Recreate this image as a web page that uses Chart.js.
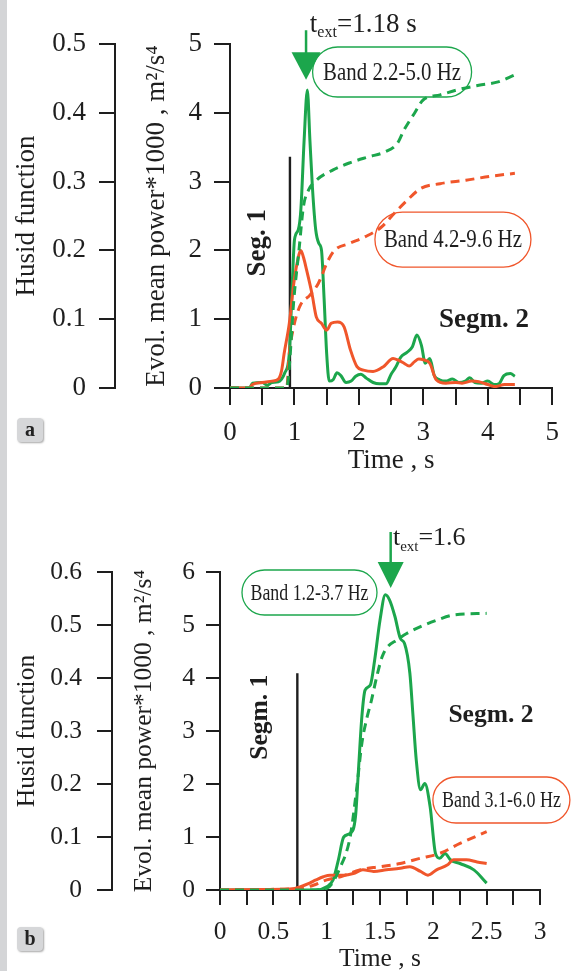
<!DOCTYPE html>
<html>
<head>
<meta charset="utf-8">
<script src="https://cdn.jsdelivr.net/npm/chart.js@4.4.1/dist/chart.umd.min.js"></script>
<style>
html, body { margin: 0; padding: 0; background: #fff; overflow: hidden; width: 571px; height: 971px; }
#stripe { position: absolute; left: 0; top: 0; width: 7px; height: 971px; background: #d4d5d7; }
canvas { position: absolute; left: 0; }
#cA { top: 0; }
#cB { top: 480px; }
.tag { position: absolute; left: 17px; width: 26px; height: 24px; background: #d6d7d9; border-radius: 4px;
       box-shadow: 1px 1px 2px rgba(0,0,0,0.35); font: bold 20px "Liberation Serif", serif;
       text-align: center; line-height: 23px; color: #222; }
</style>
</head>
<body>
<div id="stripe"></div>
<canvas id="cA" width="571" height="480"></canvas>
<canvas id="cB" width="571" height="500"></canvas>
<div class="tag" style="top:418px">a</div>
<div class="tag" style="top:927px">b</div>
<script>
// ---- panel a: time (s) and values ----
var tA_green = [0, 0.3, 0.35, 0.5, 0.58, 0.65, 0.75, 0.85, 0.92, 0.97, 1.0, 1.06, 1.1, 1.15, 1.2, 1.24, 1.28, 1.33, 1.38, 1.42,
  1.46, 1.5, 1.54, 1.6, 1.66, 1.72, 1.8, 1.88, 1.95, 2.03, 2.12, 2.22, 2.32, 2.42, 2.5, 2.57, 2.65, 2.75, 2.83, 2.9,
  2.97, 3.03, 3.1, 3.17, 3.25, 3.35, 3.45, 3.55, 3.65, 3.72, 3.8, 3.9, 4.0, 4.1, 4.17, 4.25, 4.35, 4.42];
var pA_green = [0, 0, 0.07, 0.08, 0.04, 0.08, 0.09, 0.22, 0.5, 1.6, 2.15, 2.3, 2.6, 3.6, 4.33, 3.6, 2.9, 2.3, 2.1, 2.0,
  1.3, 0.5, 0.1, 0.12, 0.22, 0.18, 0.08, 0.1, 0.17, 0.2, 0.14, 0.08, 0.06, 0.06, 0.2, 0.3, 0.45, 0.52, 0.6, 0.77,
  0.62, 0.36, 0.43, 0.18, 0.12, 0.1, 0.13, 0.08, 0.1, 0.15, 0.08, 0.07, 0.1, 0.05, 0.06, 0.18, 0.21, 0.17];

var tA_red = [0, 0.3, 0.35, 0.5, 0.65, 0.75, 0.8, 0.84, 0.92, 0.99, 1.04, 1.1, 1.14, 1.19, 1.27, 1.34, 1.42, 1.5, 1.57, 1.67,
  1.77, 1.87, 1.97, 2.07, 2.22, 2.38, 2.53, 2.62, 2.7, 2.78, 2.86, 2.93, 3.0, 3.1, 3.2, 3.35, 3.5, 3.6, 3.75, 3.86,
  4.0, 4.11, 4.26, 4.42];
var pA_red = [0, 0, 0.05, 0.08, 0.1, 0.13, 0.25, 0.5, 0.94, 1.52, 1.81, 2.0, 1.9, 1.71, 1.38, 1.03, 0.94, 0.84, 0.94, 0.96,
  0.89, 0.55, 0.31, 0.26, 0.24, 0.31, 0.43, 0.4, 0.36, 0.32, 0.38, 0.42, 0.41, 0.36, 0.12, 0.07, 0.08, 0.07, 0.1, 0.09,
  0.05, 0.02, 0.05, 0.05];

var tA_husGreen = [0, 0.88, 0.92, 0.99, 1.07, 1.14, 1.22, 1.34, 1.6, 1.85, 2.15, 2.4, 2.6, 2.7, 2.86, 3.0, 3.26, 3.51, 3.86, 4.16, 4.42];
var hA_green = [0, 0, 0.031, 0.128, 0.2, 0.264, 0.288, 0.302, 0.317, 0.327, 0.336, 0.343, 0.356, 0.375, 0.399, 0.419, 0.426, 0.433, 0.44, 0.445, 0.455];

var tA_husRed = [0, 0.88, 0.92, 0.99, 1.09, 1.24, 1.37, 1.52, 1.62, 1.85, 2.1, 2.35, 2.55, 2.75, 2.96, 3.26, 3.66, 4.06, 4.42];
var hA_red = [0, 0, 0.05, 0.09, 0.12, 0.135, 0.152, 0.185, 0.2, 0.21, 0.22, 0.234, 0.254, 0.273, 0.29, 0.297, 0.302, 0.308, 0.312];

var tA_seg = [0.93, 0.93];
var pA_seg = [0, 3.36];

// ---- panel b ----
var tB_green = [0, 0.5, 0.9, 1.0, 1.06, 1.11, 1.16, 1.22, 1.27, 1.3, 1.33, 1.36, 1.41, 1.45, 1.5, 1.55, 1.59, 1.64, 1.69, 1.73,
  1.78, 1.81, 1.84, 1.88, 1.92, 1.97, 2.02, 2.06, 2.11, 2.16, 2.25, 2.38, 2.5];
var pB_green = [0, 0, 0, 0.06, 0.19, 0.57, 1.0, 1.07, 1.38, 2.33, 3.27, 3.77, 3.87, 4.34, 5.09, 5.57, 5.47, 5.16, 4.75, 4.65,
  4.09, 3.27, 2.45, 1.89, 2.01, 1.57, 0.69, 0.6, 0.69, 0.57, 0.5, 0.38, 0.13];

var tB_red = [0, 0.4, 0.7, 0.75, 0.84, 0.9, 0.97, 1.03, 1.16, 1.25, 1.34, 1.44, 1.56, 1.69, 1.78, 1.88, 1.95, 2.03, 2.13, 2.19, 2.31, 2.41, 2.5];
var pB_red = [0, 0.01, 0.03, 0.06, 0.13, 0.19, 0.25, 0.28, 0.28, 0.31, 0.38, 0.35, 0.38, 0.41, 0.44, 0.35, 0.28, 0.38, 0.47, 0.57, 0.57, 0.53, 0.5];

var tB_husGreen = [0, 0.85, 1.0, 1.13, 1.22, 1.28, 1.33, 1.38, 1.42, 1.47, 1.52, 1.56, 1.66, 1.75, 1.88, 2.03, 2.19, 2.5];
var hB_green = [0, 0, 0.003, 0.044, 0.1, 0.189, 0.277, 0.327, 0.358, 0.403, 0.44, 0.456, 0.472, 0.484, 0.497, 0.509, 0.519, 0.522];

var tB_husRed = [0, 0.4, 0.75, 0.875, 1.0, 1.13, 1.31, 1.5, 1.69, 1.88, 2.06, 2.25, 2.5];
var hB_red = [0, 0.001, 0.003, 0.009, 0.019, 0.025, 0.038, 0.044, 0.05, 0.06, 0.069, 0.088, 0.11];

var tB_seg = [0.725, 0.725];
var pB_seg = [0, 4.09];

var FONT = '"Liberation Serif", "DejaVu Serif", serif';
var GREEN = '#1ca64c', RED = '#f0562b', INK = '#1e1e1e';

function pts(xs, ys) {
  return xs.map(function (x, i) { return { x: x, y: ys[i] }; });
}

function lineSet(xs, ys, color, axis, dashed) {
  return {
    data: pts(xs, ys), yAxisID: axis, borderColor: color,
    borderWidth: 3, borderDash: dashed ? [9, 6] : [],
    pointRadius: 0, cubicInterpolationMode: 'monotone', fill: false
  };
}

function segSet(xs, ys) {
  return { data: pts(xs, ys), yAxisID: 'p', borderColor: INK, borderWidth: 2.4, pointRadius: 0, tension: 0 };
}

// boxes, arrow and segment names, placed in data units
function makeNotes(n) {
  return {
    id: 'notes',
    afterDraw: function (chart) {
      var ctx = chart.ctx, xs = chart.scales.x, ys = chart.scales.p;
      function X(v) { return xs.getPixelForValue(v); }
      function Y(v) { return ys.getPixelForValue(v); }
      ctx.save();
      n.boxes.forEach(function (b) {
        var cx = X(b.x), cy = Y(b.y);
        ctx.beginPath();
        ctx.roundRect(cx - b.w / 2, cy - b.h / 2, b.w, b.h, b.h / 2);
        ctx.lineWidth = 1.3;
        ctx.strokeStyle = b.color;
        ctx.stroke();
        ctx.font = n.boxSize + 'px ' + FONT;
        var sx = b.tw / ctx.measureText(b.text).width;
        ctx.save();
        ctx.translate(cx, cy + 1);
        ctx.scale(sx, 1);
        ctx.fillStyle = INK;
        ctx.textAlign = 'center';
        ctx.textBaseline = 'middle';
        ctx.fillText(b.text, 0, 0);
        ctx.restore();
      });
      n.labels.forEach(function (l) {
        ctx.save();
        ctx.translate(X(l.x), Y(l.y));
        if (l.rot) ctx.rotate(-Math.PI / 2);
        ctx.font = 'bold ' + n.labelSize + 'px ' + FONT;
        ctx.fillStyle = INK;
        ctx.textAlign = 'center';
        ctx.textBaseline = 'middle';
        ctx.fillText(l.text, 0, 0);
        ctx.restore();
      });
      var a = n.arrow, ax = X(a.x);
      ctx.strokeStyle = GREEN;
      ctx.fillStyle = GREEN;
      ctx.lineWidth = 2.5;
      ctx.beginPath();
      ctx.moveTo(ax, Y(a.top));
      ctx.lineTo(ax, Y(a.head) + 2);
      ctx.stroke();
      ctx.beginPath();
      ctx.moveTo(ax - a.w / 2, Y(a.head));
      ctx.lineTo(ax + a.w / 2, Y(a.head));
      ctx.lineTo(ax, Y(a.tip));
      ctx.closePath();
      ctx.fill();
      var tx = X(a.textX), ty = Y(a.textY);
      ctx.fillStyle = INK;
      ctx.textAlign = 'left';
      ctx.textBaseline = 'alphabetic';
      ctx.font = a.size + 'px ' + FONT;
      ctx.fillText('t', tx, ty);
      tx += ctx.measureText('t').width;
      ctx.font = a.sub + 'px ' + FONT;
      ctx.fillText('ext', tx, ty + a.subDrop);
      tx += ctx.measureText('ext').width;
      ctx.font = a.size + 'px ' + FONT;
      ctx.fillText('=' + a.value, tx, ty);
      ctx.restore();
    }
  };
}

function axisBits(tickLen) {
  return {
    grid: { drawOnChartArea: false, drawTicks: true, tickLength: tickLen, lineWidth: 2, tickWidth: 2, tickColor: INK, color: INK },
    border: { display: true, color: INK, width: 2 }
  };
}

function buildChart(id, o) {
  var fs = o.fontSize;
  var xb = axisBits(o.xTick), pb = axisBits(o.pTick), hb = axisBits(o.hTick);
  return new Chart(document.getElementById(id), {
    type: 'line',
    data: { datasets: o.datasets },
    options: {
      responsive: false, animation: false, events: [],
      layout: { padding: o.pad },
      plugins: { legend: { display: false }, tooltip: { enabled: false } },
      scales: {
        x: {
          type: 'linear', position: 'bottom', min: 0, max: o.xMax,
          ticks: {
            stepSize: o.xStep, autoSkip: false, maxRotation: 0, padding: o.xPad, color: INK,
            font: { family: FONT, size: fs },
            callback: function (v) { return (v % o.xLabelStep === 0) ? String(v) : ''; }
          },
          grid: xb.grid, border: xb.border,
          title: { display: true, text: 'Time , s', color: INK, font: { family: FONT, size: fs }, padding: { top: 0, bottom: o.xTitlePad } },
          afterFit: function (s) { s.height = o.xHeight; }
        },
        p: {
          type: 'linear', position: 'left', weight: 0, min: 0, max: o.pMax,
          ticks: { stepSize: 1, padding: o.pPad, color: INK, font: { family: FONT, size: fs } },
          grid: pb.grid, border: pb.border,
          title: { display: true, text: 'Evol. mean power*1000 , m²/s⁴', color: INK, font: { family: FONT, size: fs }, padding: { top: o.pTitlePad, bottom: 0 } },
          afterFit: function (s) { s.width = o.pWidth; }
        },
        h: {
          type: 'linear', position: 'left', weight: 1, min: 0, max: o.hMax,
          ticks: { stepSize: 0.1, padding: o.hPad, color: INK, font: { family: FONT, size: fs } },
          grid: hb.grid, border: hb.border,
          title: { display: true, text: 'Husid function', color: INK, font: { family: FONT, size: fs }, padding: { top: o.hTitlePad, bottom: 0 } },
          afterFit: function (s) { s.width = o.hWidth; }
        }
      }
    },
    plugins: [makeNotes(o.notes)]
  });
}

buildChart('cA', {
  fontSize: 27, pad: { left: 8, right: 9, top: 44, bottom: 0 },
  xMax: 5, xStep: 0.5, xLabelStep: 1, xTick: 17, xPad: 12, xTitlePad: 3, xHeight: 92,
  pMax: 5, pTick: 16, pPad: 12, pTitlePad: 26, pWidth: 115,
  hMax: 0.5, hTick: 16, hPad: 13, hTitlePad: 3, hWidth: 107,
  datasets: [
    lineSet(tA_husGreen, hA_green, GREEN, 'h', true),
    lineSet(tA_husRed, hA_red, RED, 'h', true),
    lineSet(tA_red, pA_red, RED, 'p', false),
    lineSet(tA_green, pA_green, GREEN, 'p', false),
    segSet(tA_seg, pA_seg)
  ],
  notes: {
    boxSize: 26, labelSize: 27,
    boxes: [
      { text: 'Band 2.2-5.0 Hz', x: 2.515, y: 4.593, w: 159, h: 50, tw: 138, color: GREEN },
      { text: 'Band 4.2-9.6 Hz', x: 3.459, y: 2.158, w: 156, h: 55, tw: 138, color: RED }
    ],
    labels: [
      { text: 'Seg. 1', x: 0.438, y: 2.11, rot: true },
      { text: 'Segm. 2', x: 3.94, y: 0.99 }
    ],
    arrow: { x: 1.18, top: 5.2, head: 4.88, tip: 4.48, w: 29, textX: 1.239, textY: 5.174, size: 27, sub: 16, subDrop: 5, value: '1.18 s' }
  }
});

buildChart('cB', {
  fontSize: 25.5, pad: { left: 8, right: 31, top: 92, bottom: 0 },
  xMax: 3, xStep: 0.25, xLabelStep: 0.5, xTick: 15, xPad: 12, xTitlePad: 5, xHeight: 90,
  pMax: 6, pTick: 14, pPad: 11, pTitlePad: 17, pWidth: 108,
  hMax: 0.6, hTick: 15, hPad: 15, hTitlePad: 4, hWidth: 104,
  datasets: [
    lineSet(tB_husGreen, hB_green, GREEN, 'h', true),
    lineSet(tB_husRed, hB_red, RED, 'h', true),
    lineSet(tB_red, pB_red, RED, 'p', false),
    lineSet(tB_green, pB_green, GREEN, 'p', false),
    segSet(tB_seg, pB_seg)
  ],
  notes: {
    boxSize: 23, labelSize: 25.5,
    boxes: [
      { text: 'Band 1.2-3.7 Hz', x: 0.839, y: 5.613, w: 135, h: 45, tw: 118, color: GREEN },
      { text: 'Band 3.1-6.0 Hz', x: 2.638, y: 1.698, w: 137, h: 46, tw: 119, color: RED }
    ],
    labels: [
      { text: 'Segm. 1', x: 0.375, y: 3.26, rot: true },
      { text: 'Segm. 2', x: 2.54, y: 3.30 }
    ],
    arrow: { x: 1.6, top: 6.755, head: 6.19, tip: 5.70, w: 26, textX: 1.621, textY: 6.51, size: 26, sub: 15, subDrop: 6, value: '1.6' }
  }
});
</script>
</body>
</html>
